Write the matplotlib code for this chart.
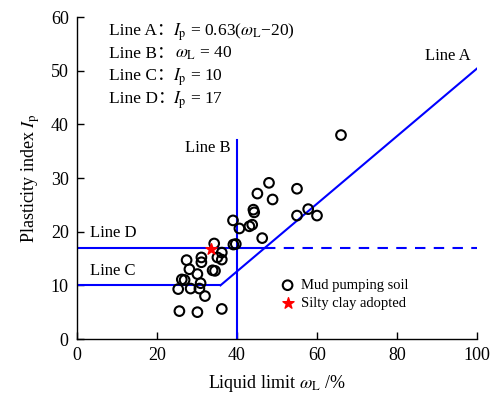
import matplotlib
matplotlib.use("Agg")
import matplotlib.pyplot as plt
import numpy as np

plt.rcParams['font.family'] = ['Liberation Serif', 'Noto Sans CJK SC']
plt.rcParams['mathtext.fontset'] = 'stix'

# Mud pumping soil data (liquid limit, plasticity index)
wl = [25.6, 30.1, 36.2, 32.0, 25.3, 28.4, 30.6, 30.9, 26.2, 26.9, 30.1, 33.9, 34.5,
      28.1, 27.4, 31.1, 31.1, 35.1, 36.2, 36.2, 34.3, 39.1, 39.7, 39.0, 40.6, 43.1,
      43.8, 44.1, 44.3, 45.1, 48.0, 48.9, 46.3, 55.0, 55.0, 57.8, 60.0, 66.0]
ip = [5.2, 5.0, 5.6, 8.0, 9.3, 9.4, 9.4, 10.4, 11.1, 11.0, 12.1, 12.8, 12.7,
      13.0, 14.7, 14.3, 15.2, 15.2, 14.8, 16.1, 17.8, 17.6, 17.7, 22.1, 20.6, 21.0,
      21.3, 24.1, 23.6, 27.1, 29.1, 26.0, 18.8, 28.0, 23.0, 24.2, 23.0, 38.0]
star_wl = [33.4]
star_ip = [16.7]

# Line definitions
a_slope, a_off = 0.63, 20
line_b = 40
line_c = 10
line_d = 17
line_b_top = 37

eq_names = ['Line A：', 'Line B：', 'Line C：', 'Line D：']
eq_texts = [r'$I_{\rm p}$ = 0.63($\omega_{\rm L}$−20)', r'$\omega_{\rm L}$ = 40',
            r'$I_{\rm p}$ = 10', r'$I_{\rm p}$ = 17']

fig = plt.figure(figsize=(4.92, 4.01), dpi=100)
ax = fig.add_axes([0.1565, 0.1546, 0.813, 0.803])

blue = '#0000ff'
xc = line_c / a_slope + a_off
xd = line_d / a_slope + a_off
ax.plot([0, xc], [line_c, line_c], color=blue, lw=1.5)
xa = np.array([xc, 100])
ax.plot(xa, a_slope * (xa - a_off), color=blue, lw=1.5)
ax.plot([0, xd], [line_d, line_d], color=blue, lw=1.5)
ax.plot([xd, 100], [line_d, line_d], color=blue, lw=1.5, ls=(0, (5, 4)))
ax.plot([line_b, line_b], [0, line_b_top], color=blue, lw=1.5)

ax.scatter(wl, ip, s=48, facecolors='none', edgecolors='black', linewidths=1.5,
           label='Mud pumping soil', zorder=3)
ax.scatter(star_wl, star_ip, s=70, marker='*', color='red', label='Silty clay adopted',
           zorder=4)

ax.set_xlim(0, 100)
ax.set_ylim(0, 60)
ax.set_xticks([0, 20, 40, 60, 80, 100])
ax.set_yticks([0, 10, 20, 30, 40, 50, 60])
ax.spines['top'].set_visible(False)
ax.spines['right'].set_visible(False)
ax.tick_params(direction='in', length=5, width=1, labelsize=13, pad=6)
for s in ['left', 'bottom']:
    ax.spines[s].set_linewidth(1.0)

ax.set_xlabel(r'Liquid limit $\omega_{\rm L}$ /%', fontsize=13, labelpad=6)
ax.set_ylabel(r'Plasticity index $I_{\rm p}$', fontsize=13, labelpad=6)

fs = 12.5
ys = [56.6, 52.4, 48.2, 43.9]
xs_eq = [24.0, 24.6, 24.0, 24.0]
for name, eq, y, xe in zip(eq_names, eq_texts, ys, xs_eq):
    ax.text(8, y, name, fontsize=fs, va='baseline')
    ax.text(xe, y, eq, fontsize=fs, va='baseline')

ax.text(92.8, 52.8, 'Line A', fontsize=12, ha='center', va='center')
ax.text(38.3, 35.6, 'Line B', fontsize=12, ha='right', va='center')
ax.text(3.3, 19.8, 'Line D', fontsize=12, ha='left', va='center')
ax.text(3.3, 12.7, 'Line C', fontsize=12, ha='left', va='center')

ax.legend(loc='upper left', bbox_to_anchor=(0.49, 0.205), frameon=False, fontsize=10.5,
          handletextpad=0.3, borderaxespad=0, labelspacing=0.3, handlelength=1.2)

fig.savefig('out.png', dpi=100)
